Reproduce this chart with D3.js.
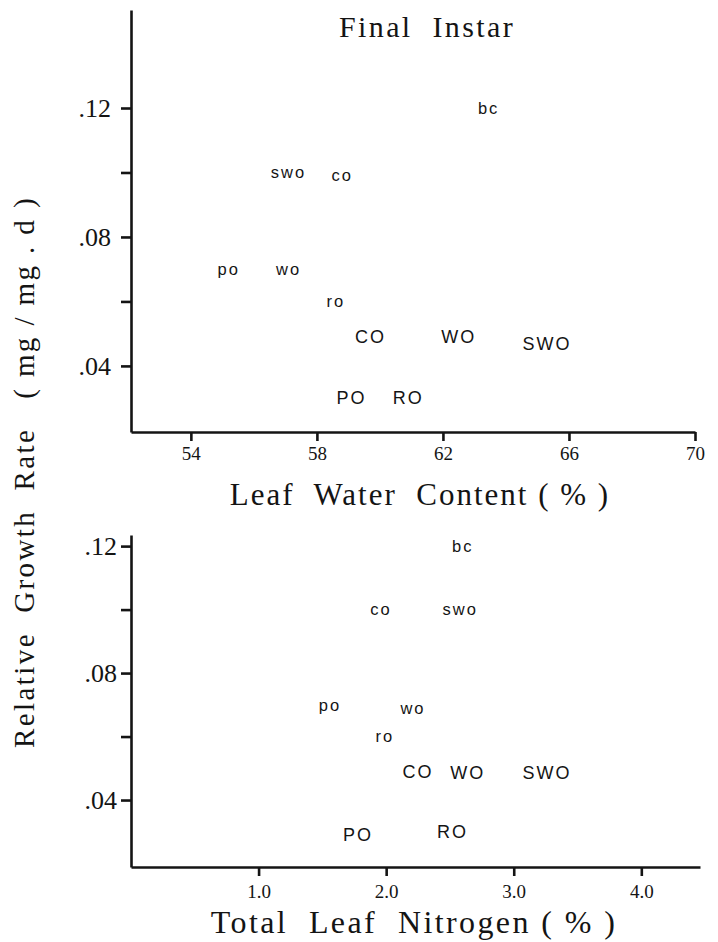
<!DOCTYPE html>
<html>
<head>
<meta charset="utf-8">
<script src="https://cdn.jsdelivr.net/npm/d3@7"></script>
<style>
  body { margin: 0; background: #fff; }
  svg text { white-space: pre; }
</style>
</head>
<body>
<div id="chart"></div>
<script>
// treatment codes (same order in both panels)
const codes = ["bc", "swo", "co", "po", "wo", "ro", "CO", "WO", "SWO", "PO", "RO"];
// relative growth rate (mg/mg.d)
const rgrWater = [0.120, 0.100, 0.099, 0.070, 0.070, 0.060, 0.049, 0.049, 0.047, 0.030, 0.030];
const rgrNitrogen = [0.120, 0.100, 0.100, 0.070, 0.069, 0.060, 0.049, 0.0485, 0.0485, 0.029, 0.030];
// leaf water content (%)
const waterContent = [63.45, 57.1, 58.8, 55.2, 57.1, 58.6, 59.7, 62.5, 65.3, 59.1, 60.9];
// total leaf nitrogen (%)
const nitrogen = [2.60, 2.58, 1.96, 1.56, 2.21, 1.99, 2.25, 2.64, 3.26, 1.78, 2.52];

const yTicks = [0.04, 0.06, 0.08, 0.10, 0.12];
const yLabelled = [0.04, 0.08, 0.12];
const waterTicks = [54, 58, 62, 66, 70];
const nitroTicks = [1, 2, 3, 4];

const W = 718, H = 942;
const serif = "'Liberation Serif', 'DejaVu Serif', serif";
const sans = "'Liberation Sans', Arial, sans-serif";
const ink = "#141414";

const svg = d3.select("#chart").append("svg")
    .attr("width", W)
    .attr("height", H);

function drawPanel(opt) {
    const x = d3.scaleLinear().domain(opt.xDomain).range([opt.left, opt.right]);
    const y = d3.scaleLinear().domain(opt.yDomain).range([opt.bottom, opt.top]);

    const g = svg.append("g");

    const yAxis = d3.axisLeft(y)
        .tickValues(yTicks)
        .tickSize(10)
        .tickSizeOuter(0)
        .tickPadding(opt.yPad)
        .tickFormat(d => yLabelled.some(v => Math.abs(v - d) < 1e-9) ? d3.format(".2f")(d).replace(/^0/, "") : "");

    const xAxis = d3.axisBottom(x)
        .tickValues(opt.xTicks)
        .tickSize(9)
        .tickSizeOuter(0)
        .tickPadding(opt.xPad)
        .tickFormat(opt.xFormat);

    const ya = g.append("g")
        .attr("transform", `translate(${opt.left},0)`)
        .call(yAxis);
    ya.selectAll("text")
        .attr("font-family", serif)
        .attr("font-size", 26)
        .attr("fill", ink);

    const xa = g.append("g")
        .attr("transform", `translate(0,${opt.bottom})`)
        .call(xAxis);
    xa.selectAll("text")
        .attr("font-family", serif)
        .attr("font-size", 19)
        .attr("fill", ink);

    g.selectAll(".domain, .tick line")
        .attr("stroke", ink)
        .attr("stroke-width", 2.6);

    // point labels
    g.selectAll("text.pt")
        .data(codes)
        .enter().append("text")
        .attr("class", "pt")
        .attr("x", (d, i) => x(opt.xs[i]))
        .attr("y", (d, i) => y(opt.ys[i]))
        .attr("dy", "0.35em")
        .attr("text-anchor", "middle")
        .attr("font-family", sans)
        .attr("font-size", d => d === d.toUpperCase() ? 18 : 16.5)
        .attr("letter-spacing", 2)
        .attr("fill", ink)
        .text(d => d);

    // axis title
    g.append("text")
        .attr("x", opt.xTitleX)
        .attr("y", opt.xTitleY)
        .attr("text-anchor", "middle")
        .attr("font-family", serif)
        .attr("font-size", opt.xTitleSize)
        .attr("letter-spacing", opt.xTitleSpacing)
        .attr("fill", ink)
        .text(opt.xTitle);
}

drawPanel({
    left: 131, right: 695, top: 10, bottom: 432,
    xDomain: [52.1, 70], yDomain: [0.0195, 0.1504],
    xTicks: waterTicks, xFormat: d3.format("d"),
    xs: waterContent, ys: rgrWater, yPad: 10, xPad: 6,
    xTitle: "Leaf  Water  Content ( % )", xTitleX: 420, xTitleY: 505,
    xTitleSize: 31, xTitleSpacing: 2
});

drawPanel({
    left: 131, right: 700, top: 535, bottom: 867,
    xDomain: [0, 4.46], yDomain: [0.0189, 0.1235],
    xTicks: nitroTicks, xFormat: d3.format(".1f"),
    xs: nitrogen, ys: rgrNitrogen, yPad: 4, xPad: 9,
    xTitle: "Total  Leaf  Nitrogen ( % )", xTitleX: 414, xTitleY: 933,
    xTitleSize: 32, xTitleSpacing: 2.4
});

// panel title
svg.append("text")
    .attr("x", 427)
    .attr("y", 37)
    .attr("text-anchor", "middle")
    .attr("font-family", serif)
    .attr("font-size", 30)
    .attr("letter-spacing", 2.4)
    .attr("fill", ink)
    .text("Final  Instar");

// shared y axis title
svg.append("text")
    .attr("transform", "translate(34,472) rotate(-90)")
    .attr("text-anchor", "middle")
    .attr("font-family", serif)
    .attr("font-size", 29)
    .attr("letter-spacing", 2.4)
    .attr("fill", ink)
    .text("Relative  Growth  Rate   ( mg / mg . d )");
</script>
</body>
</html>
